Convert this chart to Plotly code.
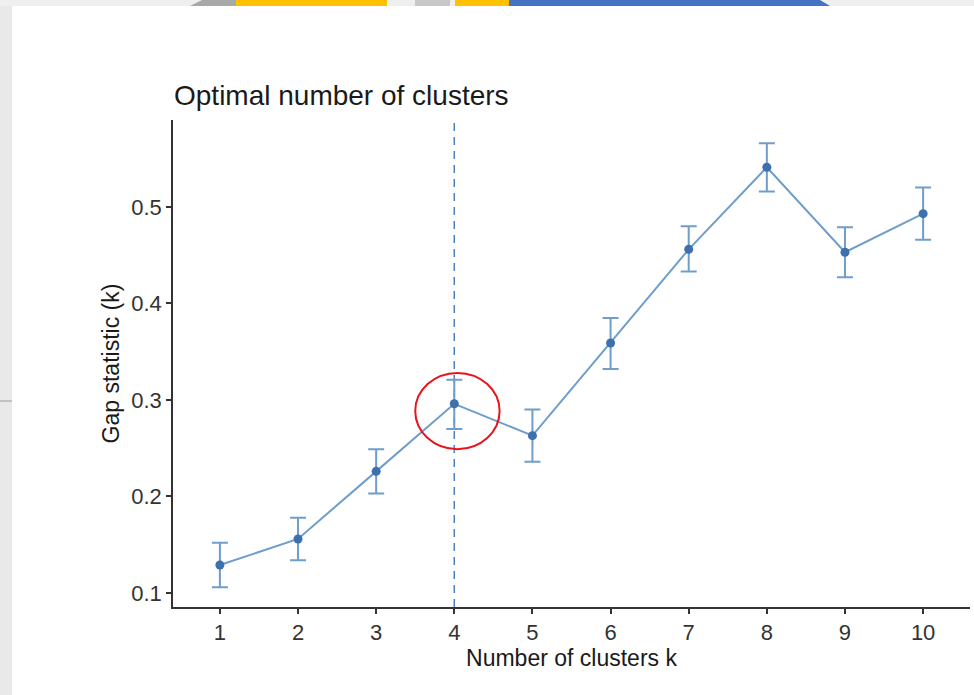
import plotly.graph_objects as go

# ---- data ----
k_values = [1, 2, 3, 4, 5, 6, 7, 8, 9, 10]
gap_values = [0.129, 0.156, 0.226, 0.296, 0.263, 0.359, 0.456, 0.541, 0.453, 0.493]
gap_upper = [0.152, 0.178, 0.249, 0.321, 0.290, 0.385, 0.480, 0.566, 0.479, 0.520]
gap_lower = [0.106, 0.134, 0.203, 0.270, 0.236, 0.332, 0.433, 0.516, 0.427, 0.466]
optimal_k = 4
x_tick_labels = ["1", "2", "3", "4", "5", "6", "7", "8", "9", "10"]
y_ticks = [0.1, 0.2, 0.3, 0.4, 0.5]

err_plus = [u - v for u, v in zip(gap_upper, gap_values)]
err_minus = [v - l for v, l in zip(gap_values, gap_lower)]

W, H = 974, 695
L, R, T, B = 173, 4, 120, 88
PW, PH = W - L - R, H - T - B


def px(x):
    return (x - L) / PW


def py(y):
    return (H - B - y) / PH


line_col = "#6f9dcc"
pt_col = "#3d70ac"

fig = go.Figure()
fig.add_trace(go.Scatter(
    x=k_values, y=gap_values, mode="lines+markers",
    line=dict(color=line_col, width=2),
    marker=dict(color=pt_col, size=9),
    error_y=dict(type="data", symmetric=False, array=err_plus, arrayminus=err_minus,
                 color=line_col, thickness=2, width=8),
    showlegend=False, hoverinfo="x+y",
))

shapes = []
# screenshot surroundings
shapes.append(dict(type="rect", xref="paper", yref="paper", x0=px(0), x1=px(12), y0=py(695), y1=py(0),
                   fillcolor="#e9e9e9", line=dict(width=0), layer="below"))
shapes.append(dict(type="rect", xref="paper", yref="paper", x0=px(0), x1=px(974), y0=py(6), y1=py(0),
                   fillcolor="#efefef", line=dict(width=0), layer="below"))
shapes.append(dict(type="path", xref="paper", yref="paper",
                   path=f"M {px(190)} {py(6)} L {px(202)} {py(0)} L {px(236)} {py(0)} L {px(236)} {py(6)} Z",
                   fillcolor="#a8a8a8", line=dict(width=0), layer="below"))
shapes.append(dict(type="rect", xref="paper", yref="paper", x0=px(236), x1=px(387), y0=py(6), y1=py(0),
                   fillcolor="#ffc000", line=dict(width=0), layer="below"))
shapes.append(dict(type="rect", xref="paper", yref="paper", x0=px(415), x1=px(450), y0=py(6), y1=py(0),
                   fillcolor="#c8c8c8", line=dict(width=0), layer="below"))
shapes.append(dict(type="rect", xref="paper", yref="paper", x0=px(455), x1=px(509), y0=py(6), y1=py(0),
                   fillcolor="#ffc000", line=dict(width=0), layer="below"))
shapes.append(dict(type="path", xref="paper", yref="paper",
                   path=f"M {px(509)} {py(6)} L {px(509)} {py(0)} L {px(820)} {py(0)} L {px(830)} {py(6)} Z",
                   fillcolor="#4472c4", line=dict(width=0), layer="below"))
shapes.append(dict(type="line", xref="paper", yref="paper", x0=px(0), x1=px(12), y0=py(401), y1=py(401),
                   line=dict(color="#9a9a9a", width=1), layer="below"))
# optimal k marker
shapes.append(dict(type="line", xref="x", yref="paper", x0=optimal_k, x1=optimal_k, y0=0, y1=1,
                   line=dict(color="#4a7fba", width=1.5, dash="8px,6px"), layer="below"))
# red highlight circle
shapes.append(dict(type="circle", xref="x", yref="y", x0=3.5, x1=4.58, y0=0.249, y1=0.328,
                   line=dict(color="#e8141c", width=2)))

fig.update_layout(
    width=W, height=H,
    margin=dict(l=L, r=R, t=T, b=B),
    paper_bgcolor="white", plot_bgcolor="white",
    font=dict(family="Liberation Sans, Arial, sans-serif", color="#1a1a1a"),
    shapes=shapes,
    title=dict(text="Optimal number of clusters", x=174 / W, xanchor="left",
               y=1 - 95 / H, yanchor="middle", font=dict(size=28, color="#1a1a1a")),
    xaxis=dict(range=[0.4, 10.6], tickvals=k_values, ticktext=x_tick_labels,
               showgrid=False, zeroline=False, showline=True, linecolor="#333333", linewidth=1.5,
               ticks="outside", ticklen=5, tickwidth=1.5, tickcolor="#333333",
               tickfont=dict(size=22, color="#333333"),
               title=dict(text="Number of clusters k", font=dict(size=23, color="#1a1a1a"), standoff=4)),
    yaxis=dict(range=[0.0855, 0.590], tickvals=y_ticks, ticktext=[f"{v:.1f}" for v in y_ticks],
               showgrid=False, zeroline=False, showline=True, linecolor="#333333", linewidth=1.5,
               ticks="outside", ticklen=5, tickwidth=1.5, tickcolor="#333333",
               tickfont=dict(size=22, color="#333333"),
               title=dict(text="Gap statistic (k)", font=dict(size=23, color="#1a1a1a"), standoff=5)),
)

fig.write_html("out.html", config={"displayModeBar": False},
               post_script="document.body.style.margin='0';")
